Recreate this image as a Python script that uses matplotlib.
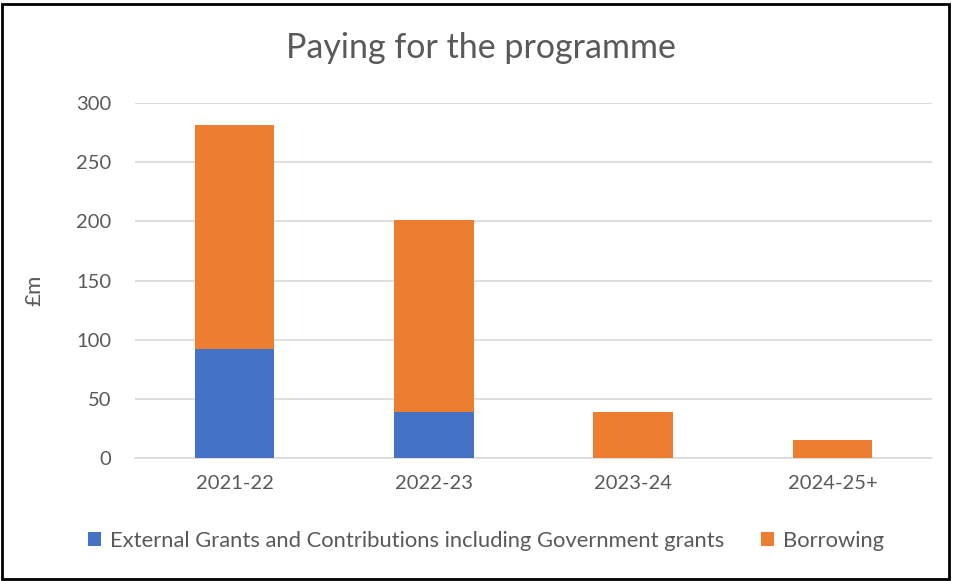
import matplotlib.pyplot as plt
from matplotlib.patches import Rectangle

plt.rcParams['font.family'] = ['Lato', 'DejaVu Sans']

years = ['2021-22', '2022-23', '2023-24', '2024-25+']
grants = [92, 39, 0, 0]
borrowing = [189, 162, 39, 15.5]

blue = '#4472c4'
orange = '#ed7d31'
text_col = '#595959'
grid_col = '#d9d9d9'

fig = plt.figure(figsize=(9.6, 5.81), dpi=100)
ax = fig.add_axes([135 / 960, 1 - 458 / 581, 797 / 960, 355 / 581])

x = range(len(years))
ax.bar(x, grants, width=0.4, color=blue, label='External Grants and Contributions including Government grants', zorder=3)
ax.bar(x, borrowing, width=0.4, bottom=grants, color=orange, label='Borrowing', zorder=3)

ax.set_xlim(-0.5, len(years) - 0.5)
ax.set_ylim(0, 300)
ax.set_yticks(range(0, 301, 50))
ax.set_xticks(list(x))
ax.set_xticklabels(years)
ax.yaxis.grid(True, color=grid_col, linewidth=1.2, zorder=0)
for side in ['top', 'right', 'left']:
    ax.spines[side].set_visible(False)
ax.spines['bottom'].set_color(grid_col)
ax.spines['bottom'].set_linewidth(1.2)
ax.tick_params(axis='both', length=0, labelsize=14.5, labelcolor=text_col)
ax.tick_params(axis='y', pad=17)
ax.tick_params(axis='x', pad=12)

fig.text(34 / 960, 1 - 290 / 581, '£m', rotation=90, ha='center', va='center', fontsize=16, color=text_col)
fig.text(481 / 960, 1 - 48 / 581, 'Paying for the programme', ha='center', va='center', fontsize=24.5, color=text_col)

ax.legend(loc='center', bbox_to_anchor=(486 / 960, 1 - 541 / 581), bbox_transform=fig.transFigure,
          ncol=2, frameon=False, fontsize=15.8, labelcolor=text_col, handlelength=0.6, handleheight=0.6,
          handletextpad=0.4, columnspacing=1.7)

# outer frame round the chart
fig.patches.append(Rectangle((2 / 960, 2 / 581), 947 / 960, 575 / 581, transform=fig.transFigure,
                             fill=False, edgecolor='black', linewidth=2))

fig.savefig('out.png', dpi=100)
